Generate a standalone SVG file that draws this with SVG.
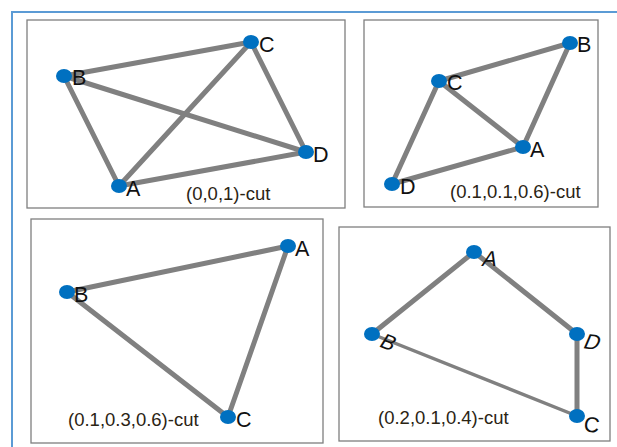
<svg xmlns="http://www.w3.org/2000/svg" width="617" height="447" viewBox="0 0 617 447">
<style>
.frame{fill:#fff;stroke:#7f7f7f;stroke-width:1.3}
.e{stroke:#808080;stroke-width:5;stroke-linecap:round;fill:none}
.n{fill:#0070c0}
.l{font-family:"Liberation Sans",Arial,sans-serif;font-size:21.5px;fill:#111}
.c{font-family:"Liberation Sans",Arial,sans-serif;font-size:18.5px;fill:#2b2414}
</style>
<rect x="0" y="0" width="617" height="447" fill="#fff"/>
<path d="M12 447 V12 H617" fill="none" stroke="#5b9bd5" stroke-width="2"/>
<g id="panel1">
<rect class="frame" x="27" y="20" width="318" height="188"/>
<g id="p1-edges">
<line class="e" x1="64" y1="76" x2="251" y2="42"/>
<line class="e" x1="64" y1="76" x2="306" y2="152"/>
<line class="e" x1="64" y1="76" x2="119" y2="186"/>
<line class="e" x1="251" y1="42" x2="306" y2="152"/>
<line class="e" x1="251" y1="42" x2="119" y2="186"/>
<line class="e" x1="119" y1="186" x2="306" y2="152"/>
</g>
<g id="p1-C"><ellipse class="n" cx="251" cy="42" rx="8" ry="7"/><text class="l" x="259" y="52">C</text></g>
<g id="p1-B"><ellipse class="n" cx="64" cy="76" rx="8" ry="7"/><text class="l" x="72" y="85">B</text></g>
<g id="p1-D"><ellipse class="n" cx="306" cy="152" rx="8" ry="7"/><text class="l" x="313" y="162">D</text></g>
<g id="p1-A"><ellipse class="n" cx="119" cy="186" rx="8" ry="7"/><text class="l" x="126" y="196">A</text></g>
<text class="c" x="186" y="200">(0,0,1)-cut</text>
</g>
<g id="panel2">
<rect class="frame" x="364" y="20" width="234" height="187"/>
<g id="p2-edges">
<line class="e" x1="439" y1="81" x2="570" y2="43"/>
<line class="e" x1="439" y1="81" x2="523" y2="147"/>
<line class="e" x1="439" y1="81" x2="392" y2="184"/>
<line class="e" x1="570" y1="43" x2="523" y2="147"/>
<line class="e" x1="523" y1="147" x2="392" y2="184"/>
</g>
<g id="p2-B"><ellipse class="n" cx="570" cy="43" rx="8" ry="7"/><text class="l" x="577" y="52">B</text></g>
<g id="p2-C"><ellipse class="n" cx="439" cy="81" rx="8" ry="7"/><text class="l" x="447" y="90">C</text></g>
<g id="p2-A"><ellipse class="n" cx="523" cy="147" rx="8" ry="7"/><text class="l" x="530" y="157">A</text></g>
<g id="p2-D"><ellipse class="n" cx="392" cy="184" rx="8" ry="7"/><text class="l" x="400" y="194">D</text></g>
<text class="c" x="450" y="198">(0.1,0.1,0.6)-cut</text>
</g>
<g id="panel3">
<rect class="frame" x="31" y="219" width="292" height="224"/>
<g id="p3-edges">
<line class="e" x1="67" y1="292" x2="288" y2="246"/>
<line class="e" x1="67" y1="292" x2="228" y2="417"/>
<line class="e" x1="288" y1="246" x2="228" y2="417"/>
</g>
<g id="p3-A"><ellipse class="n" cx="288" cy="246" rx="8" ry="7"/><text class="l" x="295" y="256">A</text></g>
<g id="p3-B"><ellipse class="n" cx="67" cy="292" rx="8" ry="7"/><text class="l" x="74" y="302">B</text></g>
<g id="p3-C"><ellipse class="n" cx="228" cy="417" rx="8" ry="7"/><text class="l" x="236" y="427">C</text></g>
<text class="c" x="68" y="426">(0.1,0.3,0.6)-cut</text>
</g>
<g id="panel4">
<rect class="frame" x="339" y="227" width="271" height="214"/>
<g id="p4-edges">
<line class="e" x1="474" y1="252" x2="372" y2="334"/>
<line class="e" x1="474" y1="252" x2="577" y2="334"/>
<line class="e" x1="577" y1="334" x2="577" y2="416"/>
<line class="e" x1="372" y1="334" x2="577" y2="416" style="stroke-width:3.5"/>
</g>
<g id="p4-A"><ellipse class="n" cx="474" cy="252" rx="8" ry="7"/><text class="l" transform="translate(481 266) skewX(-15)">A</text></g>
<g id="p4-B"><ellipse class="n" cx="372" cy="334" rx="8" ry="7"/><text class="l" transform="translate(378 346) rotate(22) skewX(-10)">B</text></g>
<g id="p4-D"><ellipse class="n" cx="577" cy="334" rx="8" ry="7"/><text class="l" transform="translate(582 348) rotate(8) skewX(-15)">D</text></g>
<g id="p4-C"><ellipse class="n" cx="577" cy="416" rx="8" ry="7"/><text class="l" transform="translate(583 431) rotate(8)">C</text></g>
<text class="c" x="378" y="424">(0.2,0.1,0.4)-cut</text>
</g>
</svg>
